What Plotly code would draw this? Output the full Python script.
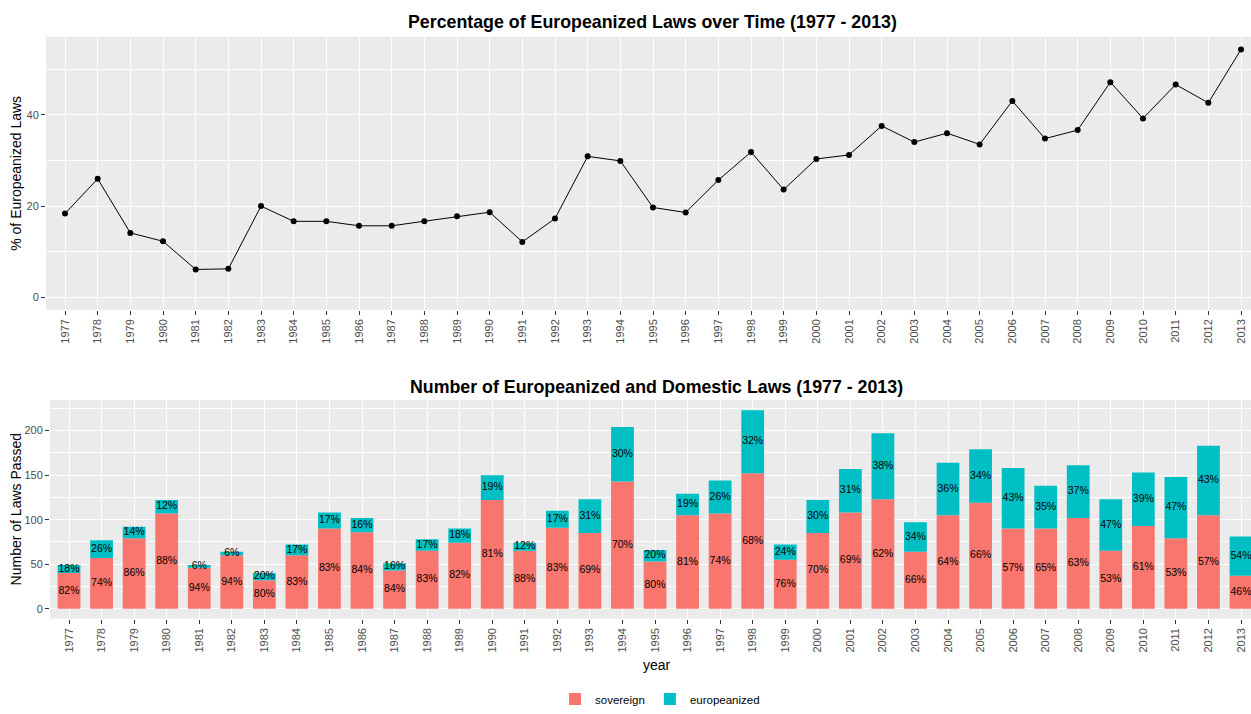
import plotly.graph_objects as go

# ---------------- data ----------------
years = list(range(1977, 2014))
year_labels = [str(y) for y in years]
sovereign = [40, 57, 79, 107, 46, 60, 32, 60, 90, 86,
             43, 65, 74, 122, 65, 91, 85, 143, 53, 105,
             107, 152, 55, 85, 108, 123, 64, 105, 119, 90,
             90, 102, 65, 93, 79, 105, 37]
europeanized = [9, 20, 13, 15, 3, 4, 8, 12, 18, 16,
                8, 13, 16, 28, 9, 19, 38, 61, 13, 24,
                37, 71, 17, 37, 49, 74, 33, 59, 60, 68,
                48, 59, 58, 60, 69, 78, 44]
series_names = ["sovereign", "europeanized"]
series_colors = ["#F8766D", "#00BFC4"]
top_title = "Percentage of Europeanized Laws over Time (1977 - 2013)"
bottom_title = "Number of Europeanized and Domestic Laws (1977 - 2013)"

totals = [s + e for s, e in zip(sovereign, europeanized)]
pct_europe = [100.0 * e / t for e, t in zip(europeanized, totals)]
lab_sov = [f"{round(100.0 * s / t)}%" for s, t in zip(sovereign, totals)]
lab_eur = [f"{round(100.0 * e / t)}%" for e, t in zip(europeanized, totals)]

W, H = 1251, 714
FONT = "Liberation Sans, Arial, sans-serif"
TICKC = "#4D4D4D"

def px(v):
    return v / W

def py(v):
    return 1 - v / H

fig = go.Figure()

# top: line chart
fig.add_trace(go.Scatter(
    x=years, y=pct_europe, mode="lines+markers",
    line=dict(color="black", width=1),
    marker=dict(color="black", size=6),
    showlegend=False, xaxis="x", yaxis="y", hoverinfo="x+y"))

# bottom: stacked bars
fig.add_trace(go.Bar(
    x=years, y=sovereign, name=series_names[0], width=0.7,
    marker=dict(color=series_colors[0], line=dict(width=0)),
    xaxis="x2", yaxis="y2"))
fig.add_trace(go.Bar(
    x=years, y=europeanized, base=sovereign, name=series_names[1], width=0.7,
    marker=dict(color=series_colors[1], line=dict(width=0)),
    xaxis="x2", yaxis="y2"))

# bar labels at segment centres
fig.add_trace(go.Scatter(
    x=years, y=[s / 2 for s in sovereign], mode="text", text=lab_sov,
    textfont=dict(family=FONT, size=10.5, color="black"),
    textposition="middle center", showlegend=False, hoverinfo="skip",
    xaxis="x2", yaxis="y2"))
fig.add_trace(go.Scatter(
    x=years, y=[s + e / 2 for s, e in zip(sovereign, europeanized)],
    mode="text", text=lab_eur,
    textfont=dict(family=FONT, size=10.5, color="black"),
    textposition="middle center", showlegend=False, hoverinfo="skip",
    xaxis="x2", yaxis="y2"))

grid = dict(showgrid=True, gridcolor="white", gridwidth=1.1, zeroline=False,
            ticks="outside", ticklen=4, tickcolor="#333333", tickwidth=1,
            tickfont=dict(family=FONT, size=11, color=TICKC), showline=False)

xcommon = dict(grid, tickmode="array", tickvals=years, ticktext=year_labels,
               tickangle=-90)

fig.update_layout(
    width=W, height=H,
    margin=dict(l=0, r=0, t=0, b=0),
    paper_bgcolor="white", plot_bgcolor="#EBEBEB",
    barmode="overlay",
    font=dict(family=FONT, color="black"),
    xaxis=dict(xcommon, domain=[px(46), 1.0], range=[1976.418, 2013.306],
               anchor="y"),
    yaxis=dict(grid, domain=[py(312), py(37)], range=[-2.72, 57.1],
               tickmode="linear", tick0=0, dtick=20, anchor="x",
               minor=dict(dtick=10, tick0=0, showgrid=True, gridcolor="white",
                          gridwidth=0.5, ticks="")),
    xaxis2=dict(xcommon, domain=[px(50), 1.0], range=[1976.416, 2013.307],
                anchor="y2"),
    yaxis2=dict(grid, domain=[py(623), py(403)], range=[-11.15, 234.2],
                tickmode="linear", tick0=0, dtick=50, anchor="x2",
                minor=dict(dtick=25, tick0=0, showgrid=True, gridcolor="white",
                           gridwidth=0.5, ticks="")),
    legend=dict(orientation="h", x=px(660), xanchor="center", y=py(704),
                yanchor="middle", traceorder="normal",
                font=dict(family=FONT, size=11.5, color="black"),
                bgcolor="rgba(0,0,0,0)"),
    showlegend=True,
    annotations=[
        dict(text=f"<b>{top_title}</b>", x=px(652.5), y=py(22), xref="paper",
             yref="paper", showarrow=False, xanchor="center", yanchor="middle",
             font=dict(family=FONT, size=17.8, color="black")),
        dict(text=f"<b>{bottom_title}</b>", x=px(656.5), y=py(390), xref="paper",
             yref="paper", showarrow=False, xanchor="center", yanchor="middle",
             font=dict(family=FONT, size=17.8, color="black")),
        dict(text="% of Europeanized Laws", x=px(16), y=py(175), xref="paper",
             yref="paper", showarrow=False, textangle=-90, xanchor="center",
             yanchor="middle", font=dict(family=FONT, size=14, color="black")),
        dict(text="Number of Laws Passed", x=px(16), y=py(513), xref="paper",
             yref="paper", showarrow=False, textangle=-90, xanchor="center",
             yanchor="middle", font=dict(family=FONT, size=14, color="black")),
        dict(text="year", x=px(657), y=py(670), xref="paper", yref="paper",
             showarrow=False, xanchor="center", yanchor="middle",
             font=dict(family=FONT, size=14, color="black")),
    ],
)

fig.write_html(
    "out.html",
    config={"displayModeBar": False},
    post_script="document.body.style.margin='0px';document.body.style.overflow='hidden';",
)
